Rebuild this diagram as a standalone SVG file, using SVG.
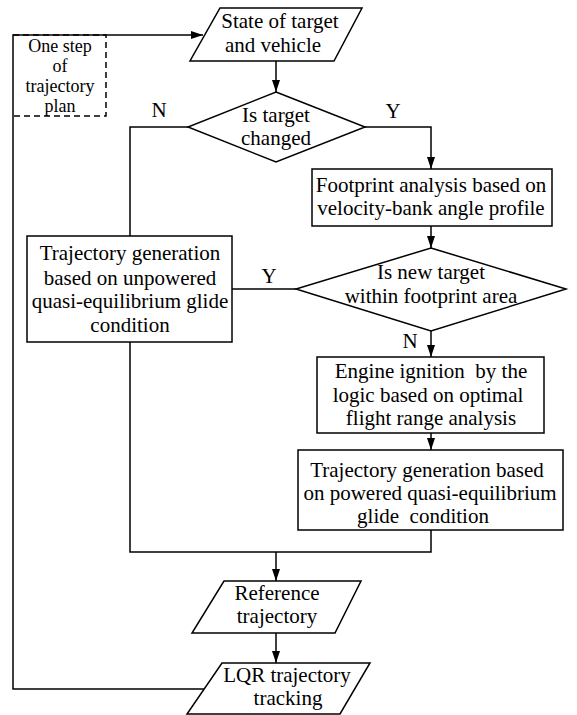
<svg xmlns="http://www.w3.org/2000/svg" width="577" height="715" viewBox="0 0 577 715">
<style>
.s{fill:#fff;stroke:#000;stroke-width:1.5}
.l{fill:none;stroke:#000;stroke-width:1.5}
.d{fill:none;stroke:#000;stroke-width:1.5;stroke-dasharray:6,4}
text{font-family:"Liberation Serif","Times New Roman",serif;font-size:21px;fill:#000;text-anchor:middle;white-space:pre}
.p{font-size:18px}
</style>
<defs>
<marker id="a" markerUnits="userSpaceOnUse" markerWidth="13" markerHeight="9" refX="12" refY="4" orient="auto">
<path d="M0,0 L12,4 L0,8 z" fill="#000"/>
</marker>
</defs>
<rect width="577" height="715" fill="#fff"/>
<g id="connectors">
<path class="l" d="M204,689 H13 V35 H106"/>
<path class="l" d="M106,35 H203" marker-end="url(#a)"/>
<path class="l" d="M276,61 V92" marker-end="url(#a)"/>
<path class="l" d="M188,127 H130 V236"/>
<path class="l" d="M365,127 H431 V169" marker-end="url(#a)"/>
<path class="l" d="M431,226 V248" marker-end="url(#a)"/>
<path class="l" d="M296,289 H232"/>
<path class="l" d="M431,331 V357" marker-end="url(#a)"/>
<path class="l" d="M431,433 V450" marker-end="url(#a)"/>
<path class="l" d="M130,342 V552 H431 V530"/>
<path class="l" d="M276,552 V581" marker-end="url(#a)"/>
<path class="l" d="M276,633 V663" marker-end="url(#a)"/>
<text x="159" y="117">N</text>
<text x="393" y="118">Y</text>
<text x="269" y="283">Y</text>
<text x="410" y="348">N</text>
</g>
<g id="plan">
<path class="d" d="M13,35 H106 V116 H13"/>
<text class="p" x="60" y="52">One step</text>
<text class="p" x="60" y="72">of</text>
<text class="p" x="60" y="92">trajectory</text>
<text class="p" x="60" y="112">plan</text>
</g>
<g id="state">
<polygon class="s" points="220,8 362,8 334,61 190,61"/>
<text x="280" y="28">State of target</text>
<text x="273" y="52">and vehicle</text>
</g>
<g id="changed">
<polygon class="s" points="276,92 365,127 276,162 188,127"/>
<text x="276" y="122">Is target</text>
<text x="276" y="145">changed</text>
</g>
<g id="footprint">
<rect class="s" x="312" y="169" width="240" height="57"/>
<text x="431" y="192">Footprint analysis based on</text>
<text x="431" y="215">velocity-bank angle profile</text>
</g>
<g id="within">
<polygon class="s" points="431,248 566,289 431,331 296,289"/>
<text x="431" y="279">Is new target</text>
<text x="431" y="303">within footprint area</text>
</g>
<g id="unpowered">
<rect class="s" x="27" y="236" width="205" height="106"/>
<text x="130" y="260">Trajectory generation</text>
<text x="130" y="285">based on unpowered</text>
<text x="130" y="308">quasi-equilibrium glide</text>
<text x="130" y="332">condition</text>
</g>
<g id="engine">
<rect class="s" x="317" y="357" width="227" height="76"/>
<text x="431" y="378">Engine ignition  by the</text>
<text x="428" y="402">logic based on optimal</text>
<text x="431" y="425">flight range analysis</text>
</g>
<g id="powered">
<rect class="s" x="298" y="450" width="265" height="80"/>
<text x="427" y="477">Trajectory generation based</text>
<text x="430" y="500">on powered quasi-equilibrium</text>
<text x="423" y="523">glide  condition</text>
</g>
<g id="reference">
<polygon class="s" points="224,581 361,581 335,633 192,633"/>
<text x="277" y="600">Reference</text>
<text x="277" y="623">trajectory</text>
</g>
<g id="lqr">
<polygon class="s" points="222,663 370,663 340,714 187,714"/>
<text x="287" y="682">LQR trajectory</text>
<text x="288" y="705">tracking</text>
</g>
</svg>
